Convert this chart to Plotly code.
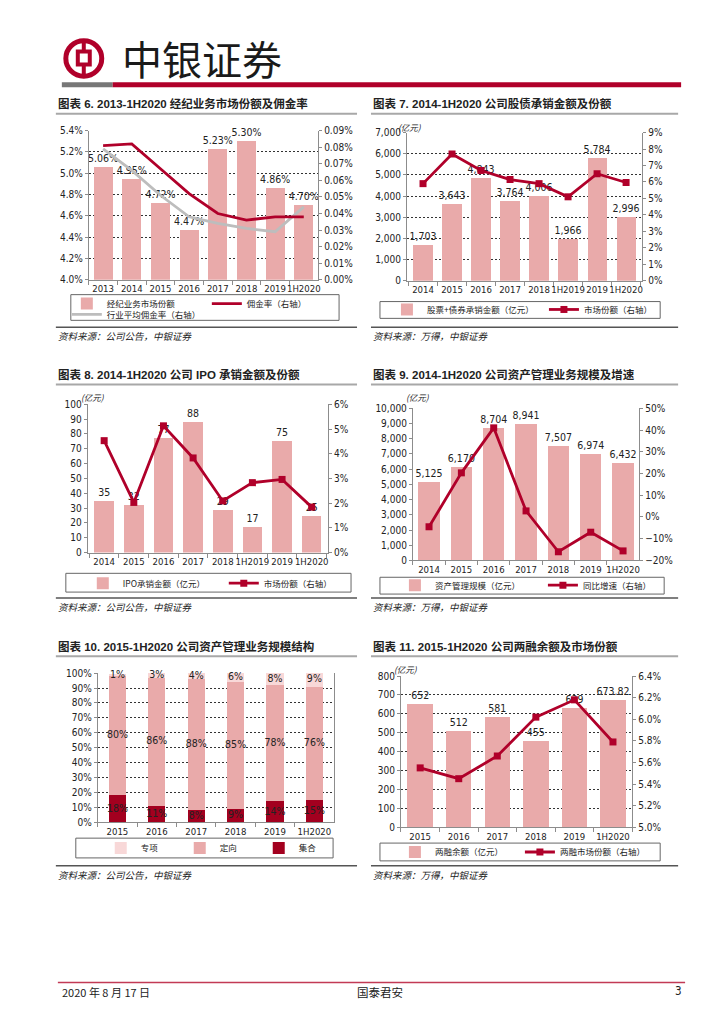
import plotly.graph_objects as go

# the page body adds an 8px margin, so the figure is drawn 8px smaller and
# page pixel coordinates are converted accordingly
OFF = 8
W, H = 724 - OFF, 1024 - OFF
def X(p): return (p - OFF) / W
def Y(p): return 1 - (p - OFF) / H

RED = "#B0002A"
PINK = "#E9AAAA"
GREY = "#BDBDBD"
DARKRED = "#A3001F"
LIGHTPINK = "#F8D8D8"
AXIS = "#8C8C8C"
TXT = "#222222"
NUM = "Liberation Sans Narrow, DejaVu Sans Condensed, Liberation Sans, Arial, sans-serif"
CJK = "Noto Sans CJK SC, sans-serif"

# ---------------- data ----------------
c6_cats = ["2013", "2014", "2015", "2016", "2017", "2018", "2019", "1H2020"]
c6_share = [5.06, 4.95, 4.72, 4.47, 5.23, 5.30, 4.86, 4.70]
c6_comm = [0.081, 0.082, 0.067, 0.052, 0.040, 0.036, 0.038, 0.038]
c6_ind = [0.079, 0.066, 0.051, 0.038, 0.034, 0.031, 0.029, 0.044]

c7_cats = ["2014", "2015", "2016", "2017", "2018", "1H2019", "2019", "1H2020"]
c7_amount = [1703, 3643, 4843, 3764, 4006, 1966, 5784, 2996]
c7_share = [5.9, 7.7, 6.7, 6.15, 5.9, 5.1, 6.5, 5.97]

c8_cats = ["2014", "2015", "2016", "2017", "2018", "1H2019", "2019", "1H2020"]
c8_ipo = [35, 32, 77, 88, 29, 17, 75, 25]
c8_share = [4.53, 2.03, 5.13, 3.83, 2.09, 2.83, 2.96, 1.84]

c9_cats = ["2014", "2015", "2016", "2017", "2018", "2019", "1H2020"]
c9_aum = [5125, 6170, 8704, 8941, 7507, 6974, 6432]
c9_yoy = [-4.5, 20.3, 41.0, 2.8, -16.0, -7.0, -15.6]

c10_cats = ["2015", "2016", "2017", "2018", "2019", "1H2020"]
c10_jihe = [18, 11, 8, 9, 14, 15]
c10_dingxiang = [80, 86, 88, 85, 78, 76]
c10_zhuanxiang = [1, 3, 4, 6, 8, 9]

c11_cats = ["2015", "2016", "2017", "2018", "2019", "1H2020"]
c11_margin = [652, 512, 581, 455, 629, 673.82]
c11_share = [5.55, 5.45, 5.66, 6.02, 6.18, 5.79]

fig = go.Figure()

def bar(x, y, xa, ya, name, legend, tt, width=0.66, color=PINK, text=None):
    fig.add_trace(go.Bar(
        x=x, y=y, xaxis=xa, yaxis=ya, name=name, legend=legend,
        marker=dict(color=color, line=dict(width=0)), width=width,
        text=text, texttemplate=tt, textposition="outside" if tt else "none", cliponaxis=False,
        constraintext="none",
        textfont=dict(family=NUM, size=10.5, color=TXT)))

def line(x, y, xa, ya, name, legend, color=RED, markers=True, w=2.8):
    fig.add_trace(go.Scatter(
        x=x, y=y, xaxis=xa, yaxis=ya, name=name, legend=legend,
        mode="lines+markers" if markers else "lines",
        line=dict(color=color, width=w),
        marker=dict(symbol="square", size=7, color=color), cliponaxis=False))

# chart 6
bar(c6_cats, c6_share, "x", "y", "经纪业务市场份额", "legend", "%{y:.2f}%")
line(c6_cats, c6_ind, "x", "y2", "行业平均佣金率（右轴）", "legend2", color=GREY, markers=False)
line(c6_cats, c6_comm, "x", "y2", "佣金率（右轴）", "legend", markers=False)
# chart 7
bar(c7_cats, c7_amount, "x2", "y3", "股票+债券承销金额（亿元）", "legend3", "%{y:,}")
line(c7_cats, c7_share, "x2", "y4", "市场份额（右轴）", "legend3")
# chart 8
bar(c8_cats, c8_ipo, "x3", "y5", "IPO承销金额（亿元）", "legend4", "%{y}")
line(c8_cats, c8_share, "x3", "y6", "市场份额（右轴）", "legend4")
# chart 9
bar(c9_cats, c9_aum, "x4", "y7", "资产管理规模（亿元）", "legend5", "%{y:,}")
line(c9_cats, c9_yoy, "x4", "y8", "同比增速（右轴）", "legend5")
# chart 10 (stacked)
bar(c10_cats, c10_jihe, "x5", "y9", "集合", "legend6", None, width=0.44, color=DARKRED)
bar(c10_cats, c10_dingxiang, "x5", "y9", "定向", "legend6", None, width=0.44, color=PINK)
bar(c10_cats, c10_zhuanxiang, "x5", "y9", "专项", "legend6", None, width=0.44, color=LIGHTPINK)
lab_x, lab_y, lab_t = [], [], []
for i, c in enumerate(c10_cats):
    a, b, z = c10_jihe[i], c10_dingxiang[i], c10_zhuanxiang[i]
    lab_x += [c, c, c]
    lab_y += [a / 2, a + b / 2, a + b + z / 2]
    lab_t += [f"{a}%", f"{b}%", f"{z}%"]
fig.add_trace(go.Scatter(x=lab_x, y=lab_y, text=lab_t, mode="text", xaxis="x5", yaxis="y9",
                         textfont=dict(family=NUM, size=10.5, color=TXT), showlegend=False,
                         cliponaxis=False, hoverinfo="skip"))
# chart 11
bar(c11_cats, c11_margin, "x6", "y10", "两融余额（亿元）", "legend7", "%{text}",
    text=[f"{v:g}" for v in c11_margin])
line(c11_cats, c11_share, "x6", "y11", "两融市场份额（右轴）", "legend7")

fig.update_layout(barmode="stack")

# ---------------- axes ----------------
def xax(l, r, anchor, cats):
    return dict(domain=[X(l), X(r)], anchor=anchor, type="category", categoryorder="array",
                categoryarray=cats, showline=True, linecolor=AXIS, linewidth=1, ticks="outside",
                tickson="boundaries", ticklen=4, tickcolor=AXIS, tickangle=0,
                tickfont=dict(family=NUM, size=9.5, color=TXT), showgrid=False, zeroline=False)

def yax(t, b, anchor, rng, dtick, fmt, suffix="", grid=False, side="left", overlay=None, mirror=False):
    d = dict(anchor=anchor, range=rng, dtick=dtick, tick0=rng[0], tickformat=fmt, ticksuffix=suffix,
             showline=True, linecolor=AXIS, linewidth=1, ticks="outside", ticklen=3, tickcolor=AXIS,
             tickfont=dict(family=NUM, size=10, color=TXT), showgrid=grid, gridcolor="#333333",
             gridwidth=1, griddash="2px,2px", zeroline=False, side=side, mirror=mirror)
    if overlay:
        d["overlaying"] = overlay
    else:
        d["domain"] = [Y(b), Y(t)]
    return d

fig.update_layout(
    xaxis=xax(89, 319, "y", c6_cats),
    yaxis=yax(126, 277, "x", [4.0, 5.4], 0.2, ".1f", "%", grid=True),
    yaxis2=yax(126, 277, "x", [0, 0.09], 0.01, ".2f", "%", side="right", overlay="y"),
    xaxis2=xax(408, 644, "y3", c7_cats),
    yaxis3=yax(128, 278, "x2", [0, 7000], 1000, ",", grid=True),
    yaxis4=yax(128, 278, "x2", [0, 9], 1, "d", "%", side="right", overlay="y3"),
    xaxis3=xax(88, 329, "y5", c8_cats),
    yaxis5=yax(403, 553, "x3", [0, 100], 10, "d"),
    yaxis6=yax(403, 553, "x3", [0, 6], 1, "d", "%", side="right", overlay="y5"),
    xaxis4=xax(414, 641, "y7", c9_cats),
    yaxis7=yax(407, 561, "x4", [0, 10000], 1000, ","),
    yaxis8=yax(407, 561, "x4", [-20, 50], 10, "d", "%", side="right", overlay="y7"),
    xaxis5=xax(98, 335, "y9", c10_cats),
    yaxis9=yax(675, 826, "x5", [0, 100], 10, "d", "%", grid=True, mirror=True),
    xaxis6=xax(402, 634, "y10", c11_cats),
    yaxis10=yax(678, 831, "x6", [0, 800], 100, "d", grid=True),
    yaxis11=yax(678, 831, "x6", [5.0, 6.4], 0.2, ".1f", "%", side="right", overlay="y10"),
)

# ---------------- legends ----------------
def leg(x, y, **kw):
    d = dict(x=X(x), y=Y(y), xanchor="left", yanchor="middle", orientation="h",
             bgcolor="rgba(0,0,0,0)", borderwidth=0, traceorder="normal",
             font=dict(family=CJK, size=8.5, color=TXT), itemwidth=30,
             itemclick=False, itemdoubleclick=False)
    d.update(kw)
    return d

fig.update_layout(
    legend=leg(67, 301, entrywidth=95),
    legend2=leg(67, 312),
    legend3=leg(388, 307, entrywidth=112),
    legend4=leg(83, 584, entrywidth=96),
    legend5=leg(396, 586, entrywidth=103),
    legend6=leg(101, 852, entrywidth=34, traceorder="reversed"),
    legend7=leg(396, 856, entrywidth=80),
)

# ---------------- decorations ----------------
shapes = []
def hl(x0, x1, y, color, w):
    shapes.append(dict(type="line", xref="paper", yref="paper", x0=X(x0), x1=X(x1), y0=Y(y), y1=Y(y),
                       line=dict(color=color, width=w)))
def box(x0, y0, x1, y1, color="#666666", w=1, fill=None):
    d = dict(type="rect", xref="paper", yref="paper", x0=X(x0), x1=X(x1), y0=Y(y1), y1=Y(y0),
             line=dict(color=color, width=w))
    if fill:
        d["fillcolor"] = fill
    shapes.append(d)

# header logo
shapes.append(dict(type="circle", xref="paper", yref="paper", x0=X(66), x1=X(102), y0=Y(71), y1=Y(35),
                   line=dict(color=RED, width=5)))
box(78, 46, 90, 59, color=RED, w=4)
shapes.append(dict(type="line", xref="paper", yref="paper", x0=X(84), x1=X(84), y0=Y(35), y1=Y(46),
                   line=dict(color=RED, width=4)))
shapes.append(dict(type="line", xref="paper", yref="paper", x0=X(84), x1=X(84), y0=Y(59), y1=Y(71),
                   line=dict(color=RED, width=4)))
# header bar
box(62, 77, 113, 82, color="rgba(0,0,0,0)", w=0, fill="#777777")
box(113, 77, 683, 82, color="rgba(0,0,0,0)", w=0, fill=RED)

# title underlines and source lines
for y in (109, 383, 658):
    hl(56, 358, y, "#A8A8A8", 2)
    hl(372, 680, y, "#A8A8A8", 2)
for y in (325, 599, 870):
    hl(56, 358, y, "#555555", 1.5)
    hl(372, 680, y, "#555555", 1.5)

# legend boxes
box(71, 292, 340, 318)
box(381, 299, 662, 316)
box(66, 574, 352, 593)
box(381, 578, 666, 595)
box(76, 842, 334, 862)
box(381, 847, 662, 865)

# footer line
hl(58, 687, 988, "#C23A55", 1.5)

fig.update_layout(shapes=shapes)

ann = []
def txt(x, y, s, size=10, family=CJK, xanchor="left", color=TXT):
    ann.append(dict(xref="paper", yref="paper", x=X(x), y=Y(y), text=s, showarrow=False,
                    xanchor=xanchor, yanchor="middle", font=dict(family=family, size=size, color=color)))

txt(120, 53, "中银证券", size=40, color="#1A1A1A")

titles = [
    (56, 99, "图表 6. 2013-1H2020 经纪业务市场份额及佣金率"),
    (372, 99, "图表 7. 2014-1H2020 公司股债承销金额及份额"),
    (56, 373, "图表 8. 2014-1H2020 公司 IPO 承销金额及份额"),
    (372, 373, "图表 9. 2014-1H2020 公司资产管理业务规模及增速"),
    (56, 648, "图表 10. 2015-1H2020 公司资产管理业务规模结构"),
    (372, 648, "图表 11. 2015-1H2020 公司两融余额及市场份额"),
]
for x, y, s in titles:
    txt(x, y, "<b>" + s + "</b>", size=11.5, family="Liberation Sans, Noto Sans CJK SC, sans-serif")

src1 = "<i>资料来源：公司公告，中银证券</i>"
src2 = "<i>资料来源：万得，中银证券</i>"
for y in (334, 608, 879):
    txt(56, y, src1, size=9.5)
    txt(372, y, src2, size=9.5)

for x, y in ((397, 122), (79, 396), (405, 396), (393, 671)):
    txt(x, y, "<i>(亿元)</i>", size=8.5)

txt(60, 998, "2020 年 8 月 17 日", size=11)
txt(381, 998, "国泰君安", size=11.5, xanchor="center")
txt(686, 997, "3", size=11.5, family=NUM, xanchor="right")

fig.update_layout(annotations=ann)

fig.update_layout(width=W, height=H, margin=dict(l=0, r=0, t=0, b=0),
                  paper_bgcolor="white", plot_bgcolor="white", showlegend=True)

fig.write_html("out.html")
